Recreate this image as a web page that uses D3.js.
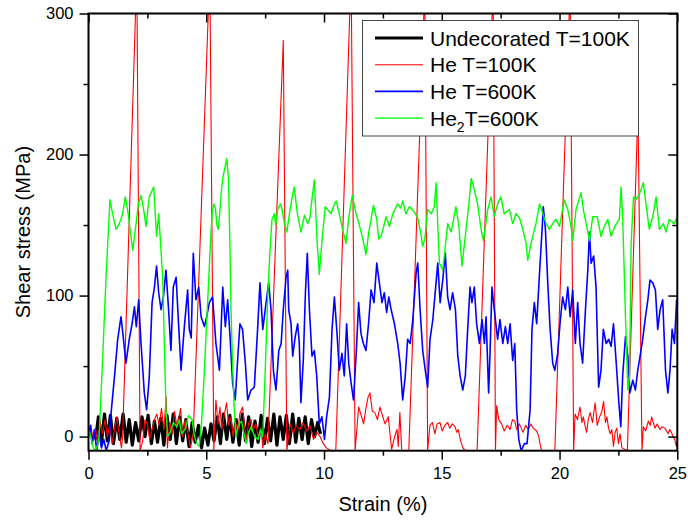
<!DOCTYPE html>
<html>
<head>
<meta charset="utf-8">
<script src="https://cdn.jsdelivr.net/npm/d3@7"></script>
<style>
  html, body { margin: 0; padding: 0; background: #fff; }
  svg { display: block; font-family: "Liberation Sans", Arial, sans-serif; }
</style>
</head>
<body>
<svg id="chart" width="688" height="524"></svg>
<script>
// Shear stress vs strain for an undecorated boundary and He-decorated boundaries.
// Each series is a list of [strain (%), shear stress (MPa)] pairs.

const undecorated100K = [
  [0.30,-2],[0.42,14],[0.55,-4],[0.68,16],[0.80,-3],[0.93,15],[1.06,-5],[1.20,13],[1.33,-2],[1.47,16],
  [1.60,-4],[1.73,12],[1.86,-6],[2.00,10],[2.13,-3],[2.27,14],[2.40,0],[2.53,15],[2.67,-5],[2.80,11],
  [2.93,-4],[3.07,13],[3.20,-6],[3.33,15],[3.47,-2],[3.60,16],[3.73,-5],[3.87,14],[4.00,-3],[4.13,12],
  [4.27,-7],[4.40,10],[4.53,-4],[4.67,8],[4.80,-8],[4.93,6],[5.07,-6],[5.20,9],[5.33,-3],[5.47,14],
  [5.60,-5],[5.73,16],[5.87,-2],[6.00,15],[6.13,-4],[6.27,12],[6.40,-6],[6.53,16],[6.67,-3],[6.80,14],
  [6.93,-7],[7.07,11],[7.20,-4],[7.33,15],[7.47,-5],[7.60,13],[7.73,-3],[7.87,16],[8.00,-6],[8.13,14],
  [8.27,-2],[8.40,15],[8.53,-5],[8.67,16],[8.80,-4],[8.93,13],[9.07,-2],[9.20,14],[9.33,-5],[9.47,12],
  [9.60,0],[9.73,10],[9.85,2]
];

const he100K = [
  [0.0,2],[0.1,8],[0.2,-3],[0.3,6],[0.4,-6],[0.5,10],[0.6,2],[0.7,12],[0.8,0],[0.9,8],[1.0,-5],[1.1,5],
  [1.2,14],[1.3,2],[1.4,-8],[1.45,0],[2.05,330],[2.19,-10],
  [2.3,-3],[2.4,12],[2.5,9],[2.6,-2],[2.7,5],[2.8,12],[2.9,16],[3.0,8],[3.1,20],[3.2,5],[3.3,28],[3.35,-8],
  [3.45,10],[3.55,2],[3.65,18],[3.75,8],[3.85,14],[3.91,20],[4.0,0],[4.1,12],[4.2,4],[4.33,-8],[4.45,2],
  [5.15,330],[5.32,-10],
  [5.41,26],[5.5,9],[5.58,21],[5.66,5],[5.75,14],[5.86,24],[5.95,8],[6.05,14],[6.14,0],[6.25,10],[6.35,4],
  [6.42,16],[6.54,21],[6.62,8],[6.7,-2],[6.8,10],[6.9,12],[6.99,5],[7.11,9],[7.2,0],[7.33,6],[7.4,-8],
  [7.5,2],[7.62,-5],[8.27,281],[8.42,-10],
  [8.56,9],[8.7,2],[8.8,8],[8.98,5],[9.1,10],[9.26,4],[9.4,8],[9.55,-2],[9.7,3],[9.83,0],[9.97,-5],
  [10.1,-8],[10.3,-10],[10.5,-10],[11.15,330],[11.32,-10],
  [11.47,21],[11.58,15],[11.68,9],[11.78,20],[11.87,28],[11.95,31],[12.05,18],[12.16,17],[12.27,12],
  [12.37,21],[12.48,15],[12.59,9],[12.73,14],[12.8,2],[12.87,-9],[13.0,0],[13.1,5],[13.15,-7],[13.22,17],
  [13.3,-10],[13.6,-10],[14.28,320],[14.4,-10],
  [14.5,8],[14.6,10],[14.71,2],[14.8,9],[14.92,10],[15.02,4],[15.13,8],[15.25,10],[15.34,6],[15.45,9],
  [15.56,7],[15.64,3],[15.7,5],[15.8,-3],[15.9,-8],[16.0,-10],[16.5,-10],[17.18,320],[17.28,-10],
  [17.33,22],[17.42,12],[17.54,9],[17.65,4],[17.78,8],[17.9,5],[18.0,12],[18.1,11],[18.18,5],[18.3,9],
  [18.45,3],[18.56,8],[18.67,5],[18.78,9],[18.88,6],[19.03,4],[19.12,0],[19.17,-5],[19.24,-10],
  [19.8,-10],[20.45,320],[20.6,-10],
  [20.66,16],[20.76,12],[20.87,21],[20.95,10],[21.01,14],[21.08,8],[21.15,3],[21.22,12],[21.3,17],
  [21.4,10],[21.51,24],[21.6,8],[21.7,14],[21.8,18],[21.87,25],[21.95,10],[22.01,14],[22.08,6],[22.15,2],
  [22.22,5],[22.29,-7],[22.36,3],[22.43,6],[22.5,-5],[22.57,2],[22.65,-8],[22.88,-10],[23.33,233],[23.5,-10],
  [23.56,7],[23.66,4],[23.77,11],[23.85,8],[23.91,14],[23.98,10],[24.05,6],[24.15,9],[24.26,5],[24.36,7],
  [24.47,6],[24.55,4],[24.61,2],[24.68,5],[24.75,3],[24.82,0],[24.89,-2],[24.96,-7],[25.0,-3]
];

const he600K = [
  [0.0,0],[0.08,8],[0.15,-5],[0.25,5],[0.35,-10],[0.45,3],[0.55,-8],[0.65,-2],[0.75,-10],[0.88,-3],
  [0.95,15],[1.1,42],[1.24,69],[1.38,85],[1.48,70],[1.59,52],[1.73,69],[1.85,80],[1.95,92],[2.03,78],
  [2.13,97],[2.23,66],[2.37,31],[2.47,19],[2.58,42],[2.7,95],[2.8,106],[2.89,121],[2.98,102],[3.08,90],
  [3.18,99],[3.29,118],[3.4,90],[3.5,61],[3.6,106],[3.72,113],[3.83,78],[3.93,47],[4.07,78],[4.21,104],
  [4.28,76],[4.36,70],[4.45,130],[4.56,97],[4.68,106],[4.78,85],[4.92,78],[5.02,85],[5.13,95],[5.27,99],
  [5.41,66],[5.56,47],[5.7,106],[5.81,78],[5.91,97],[6.01,71],[6.12,38],[6.23,26],[6.33,54],[6.43,80],
  [6.54,76],[6.66,52],[6.76,26],[6.9,33],[7.04,35],[7.18,76],[7.28,109],[7.4,76],[7.54,95],[7.65,109],
  [7.75,90],[7.85,47],[7.96,33],[8.08,61],[8.18,66],[8.27,90],[8.39,113],[8.46,118],[8.5,90],[8.6,80],
  [8.67,57],[8.78,71],[8.88,80],[8.95,66],[9.02,24],[9.12,54],[9.21,102],[9.29,130],[9.38,90],[9.49,57],
  [9.59,61],[9.69,43],[9.8,9],[9.91,14],[10.02,-2],[10.11,14],[10.23,28],[10.34,76],[10.44,99],[10.54,76],
  [10.65,47],[10.76,59],[10.86,43],[10.96,80],[11.05,52],[11.15,38],[11.25,26],[11.36,57],[11.47,95],
  [11.57,73],[11.67,66],[11.78,61],[11.89,80],[12.0,104],[12.12,95],[12.24,123],[12.35,109],[12.46,95],
  [12.56,102],[12.66,88],[12.75,99],[12.85,90],[12.99,80],[13.13,66],[13.23,52],[13.34,26],[13.45,43],
  [13.55,69],[13.66,66],[13.77,83],[13.91,116],[13.98,123],[14.08,90],[14.19,61],[14.3,47],[14.4,35],
  [14.5,69],[14.62,83],[14.73,104],[14.83,123],[14.93,95],[15.04,111],[15.15,130],[15.25,99],[15.35,90],
  [15.46,102],[15.58,90],[15.68,57],[15.78,43],[15.89,33],[16.0,43],[16.1,76],[16.2,106],[16.28,95],
  [16.38,106],[16.48,80],[16.6,66],[16.71,83],[16.81,66],[16.88,85],[16.99,31],[17.05,60],[17.13,106],
  [17.23,90],[17.37,69],[17.47,83],[17.59,66],[17.7,78],[17.8,66],[17.9,80],[18.01,54],[18.1,66],[18.18,19],
  [18.27,-2],[18.37,-10],[18.51,-5],[18.62,-5],[18.75,19],[18.83,76],[18.93,95],[19.03,80],[19.14,113],
  [19.26,147],[19.31,163],[19.4,147],[19.5,109],[19.6,76],[19.71,52],[19.8,47],[19.92,59],[20.02,80],
  [20.13,99],[20.25,90],[20.35,106],[20.45,85],[20.56,104],[20.67,66],[20.77,95],[20.87,66],[20.98,52],
  [21.1,90],[21.2,118],[21.27,145],[21.34,123],[21.45,128],[21.55,106],[21.66,35],[21.76,47],[21.86,76],
  [21.98,66],[22.09,69],[22.19,64],[22.29,80],[22.4,54],[22.51,26],[22.6,7],[22.68,43],[22.8,71],[22.9,57],
  [22.99,31],[23.11,40],[23.22,33],[23.32,47],[23.42,57],[23.53,69],[23.65,85],[23.75,97],[23.84,111],
  [23.96,109],[24.07,104],[24.17,76],[24.27,90],[24.38,97],[24.5,47],[24.6,31],[24.69,47],[24.78,76],
  [24.88,66],[24.97,97]
];

const he2600K = [
  [0.0,5],[0.1,0],[0.2,-8],[0.3,-10],[0.4,-5],[0.45,0],[0.6,55],[0.75,115],[0.91,168],[1.0,160],[1.17,147],
  [1.31,151],[1.45,158],[1.56,170],[1.66,161],[1.78,145],[1.88,132],[2.02,151],[2.12,165],[2.23,171],
  [2.35,160],[2.44,149],[2.58,170],[2.77,177],[2.89,142],[2.98,158],[3.05,140],[3.15,113],[3.29,19],
  [3.36,0],[3.47,3],[3.6,10],[3.75,7],[3.86,12],[3.95,2],[4.1,5],[4.25,15],[4.4,12],[4.5,0],[4.6,-5],
  [4.7,-7],[4.8,10],[4.9,40],[5.0,75],[5.1,110],[5.2,145],[5.27,161],[5.33,165],[5.39,162],[5.45,150],
  [5.51,147],[5.57,158],[5.63,172],[5.7,183],[5.77,189],[5.87,197],[5.94,184],[6.0,140],[6.05,90],
  [6.12,50],[6.19,19],[6.26,0],[6.35,8],[6.5,11],[6.6,2],[6.7,-5],[6.8,3],[6.9,7],[7.05,0],[7.2,-2],
  [7.3,5],[7.4,0],[7.5,45],[7.6,95],[7.7,130],[7.79,154],[7.89,158],[7.95,150],[8.03,161],[8.15,165],
  [8.21,162],[8.32,151],[8.42,145],[8.55,160],[8.65,170],[8.74,177],[8.85,160],[9.02,145],[9.17,157],
  [9.31,151],[9.4,155],[9.5,170],[9.59,182],[9.7,140],[9.8,115],[9.92,140],[10.05,163],[10.2,160],
  [10.3,158],[10.44,165],[10.52,167],[10.62,160],[10.79,147],[10.93,137],[11.05,155],[11.2,171],
  [11.36,158],[11.5,150],[11.65,140],[11.78,129],[11.9,145],[12.1,164],[12.24,154],[12.32,140],
  [12.42,142],[12.55,150],[12.63,156],[12.78,149],[12.92,158],[13.13,165],[13.25,162],[13.34,167],
  [13.48,158],[13.62,163],[13.8,160],[13.98,155],[14.1,145],[14.19,135],[14.28,140],[14.4,161],
  [14.55,158],[14.68,163],[14.76,180],[14.83,150],[14.9,123],[15.04,118],[15.15,135],[15.25,151],
  [15.4,145],[15.6,163],[15.72,150],[15.86,121],[16.03,147],[16.15,165],[16.25,183],[16.34,178],
  [16.52,165],[16.67,147],[16.77,139],[16.95,161],[17.09,170],[17.23,156],[17.37,165],[17.51,170],
  [17.65,158],[17.87,161],[18.01,151],[18.15,158],[18.3,155],[18.44,147],[18.58,137],[18.65,125],
  [18.79,137],[19.0,151],[19.15,165],[19.29,158],[19.43,151],[19.57,147],[19.71,151],[19.85,154],
  [20.0,149],[20.2,168],[20.35,161],[20.48,150],[20.56,139],[20.7,161],[20.91,173],[21.02,160],
  [21.13,151],[21.27,139],[21.41,156],[21.6,156],[21.76,142],[21.9,149],[22.05,154],[22.19,142],
  [22.35,149],[22.54,154],[22.61,177],[22.68,156],[22.8,85],[22.9,33],[22.97,42],[23.04,137],[23.14,170],
  [23.25,168],[23.39,172],[23.56,180],[23.67,165],[23.81,147],[23.96,156],[24.1,170],[24.24,147],
  [24.41,151],[24.52,145],[24.66,154],[24.87,151],[25.0,156]
];

const strainTicks = [0, 5, 10, 15, 20, 25];
const strainMinorTicks = [2.5, 7.5, 12.5, 17.5, 22.5];
const stressTicks = [0, 100, 200, 300];
const stressMinorTicks = [50, 150, 250];

const series = [
  { name: "Undecorated T=100K", data: undecorated100K, color: "#000000", width: 3.2 },
  { name: "He T=100K",          data: he100K,          color: "#ff0000", width: 1.1 },
  { name: "He T=600K",          data: he600K,          color: "#0000ff", width: 1.6 },
  { name: "He2T=600K",          data: he2600K,         color: "#00ff00", width: 1.4 }
];

const svg = d3.select("#chart");
const plot = { left: 88.5, right: 677.3, top: 13.5, bottom: 450.7 };

const x = d3.scaleLinear().domain([0, 25]).range([plot.left, plot.right]);
const y = d3.scaleLinear().domain([-10, 300]).range([plot.bottom, plot.top]);

svg.append("defs").append("clipPath").attr("id", "plotClip")
  .append("rect")
  .attr("x", plot.left).attr("y", plot.top)
  .attr("width", plot.right - plot.left).attr("height", plot.bottom - plot.top);

// data lines
const line = d3.line().x(d => x(d[0])).y(d => y(d[1]));
const lines = svg.append("g").attr("clip-path", "url(#plotClip)");
series.forEach(s => {
  lines.append("path")
    .datum(s.data)
    .attr("d", line)
    .attr("fill", "none")
    .attr("stroke", s.color)
    .attr("stroke-width", s.width)
    .attr("stroke-linejoin", "round");
});

// axes: majors with labels, minors without; top/right ticks point inward
const tickFont = "16.5px";
function styleAxis(g) {
  g.select(".domain").remove();
  g.selectAll("line").attr("stroke", "#000").attr("stroke-width", 1.5);
  g.selectAll("text").attr("fill", "#000").style("font-size", tickFont)
    .style("font-family", "'Liberation Sans', Arial, sans-serif");
}

svg.append("g").attr("transform", `translate(0,${plot.bottom})`)
  .call(d3.axisBottom(x).tickValues(strainTicks).tickSize(9).tickPadding(8).tickFormat(d3.format("d")))
  .call(styleAxis);
svg.append("g").attr("transform", `translate(0,${plot.bottom})`)
  .call(d3.axisBottom(x).tickValues(strainMinorTicks).tickSize(5).tickFormat(""))
  .call(styleAxis);

svg.append("g").attr("transform", `translate(${plot.left},0)`)
  .call(d3.axisLeft(y).tickValues(stressTicks).tickSize(9).tickPadding(6).tickFormat(d3.format("d")))
  .call(styleAxis);
svg.append("g").attr("transform", `translate(${plot.left},0)`)
  .call(d3.axisLeft(y).tickValues(stressMinorTicks).tickSize(5).tickFormat(""))
  .call(styleAxis);

svg.append("g").attr("transform", `translate(0,${plot.top})`)
  .call(d3.axisTop(x).tickValues(strainTicks).tickSize(-9).tickFormat(""))
  .call(styleAxis);
svg.append("g").attr("transform", `translate(0,${plot.top})`)
  .call(d3.axisTop(x).tickValues(strainMinorTicks).tickSize(-5).tickFormat(""))
  .call(styleAxis);

svg.append("g").attr("transform", `translate(${plot.right},0)`)
  .call(d3.axisRight(y).tickValues(stressTicks).tickSize(-9).tickFormat(""))
  .call(styleAxis);
svg.append("g").attr("transform", `translate(${plot.right},0)`)
  .call(d3.axisRight(y).tickValues(stressMinorTicks).tickSize(-5).tickFormat(""))
  .call(styleAxis);

// frame
svg.append("rect")
  .attr("x", plot.left).attr("y", plot.top)
  .attr("width", plot.right - plot.left).attr("height", plot.bottom - plot.top)
  .attr("fill", "none").attr("stroke", "#000").attr("stroke-width", 2);

// axis titles
svg.append("text")
  .attr("x", (plot.left + plot.right) / 2).attr("y", 511)
  .attr("text-anchor", "middle")
  .style("font-size", "20px")
  .text("Strain (%)");

svg.append("text")
  .attr("transform", `translate(30,${(plot.top + plot.bottom) / 2}) rotate(-90)`)
  .attr("text-anchor", "middle")
  .style("font-size", "20px")
  .text("Shear stress (MPa)");

// legend
const legend = svg.append("g");
legend.append("rect")
  .attr("x", 362.5).attr("y", 20.5).attr("width", 276).attr("height", 115.5)
  .attr("fill", "#fff").attr("stroke", "#444").attr("stroke-width", 1);

const rowGap = 26.7;
series.forEach((s, i) => {
  const cy = 38 + i * rowGap;
  legend.append("line")
    .attr("x1", 375).attr("x2", 423).attr("y1", cy).attr("y2", cy)
    .attr("stroke", s.color).attr("stroke-width", s.width);
  const t = legend.append("text")
    .attr("x", 430).attr("y", cy + 7.7)
    .style("font-size", "21px");
  if (s.name.startsWith("He2")) {
    t.append("tspan").text("He");
    t.append("tspan").attr("dy", 6).style("font-size", "14px").text("2");
    t.append("tspan").attr("dy", -6).text("T=600K");
  } else {
    t.text(s.name);
  }
});
</script>
</body>
</html>
